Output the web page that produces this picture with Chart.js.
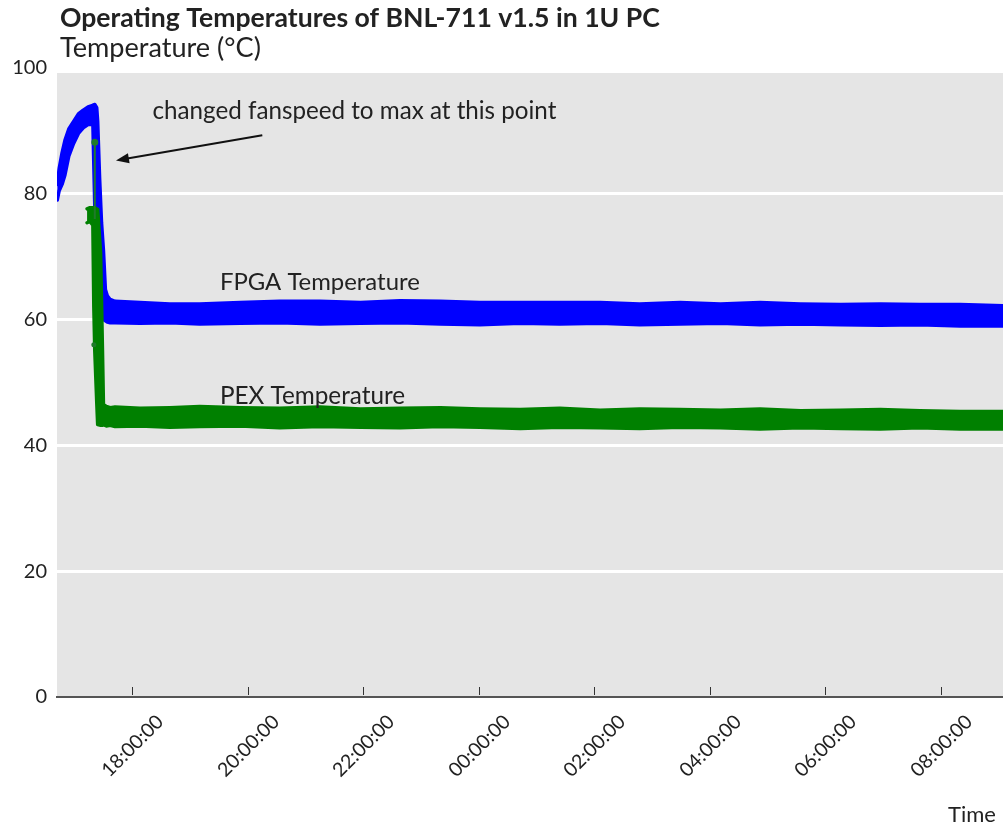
<!DOCTYPE html>
<html>
<head>
<meta charset="utf-8">
<script src="https://cdn.jsdelivr.net/npm/chart.js"></script>
<style>
  html, body { margin: 0; padding: 0; background: #fff; overflow: hidden; }
  #wrap { width: 1003px; height: 823px; position: relative; }
</style>
</head>
<body>
<div id="wrap"><canvas id="chart"></canvas></div>
<script>
// Values (times are clock times, night rolls past midnight)
// Each sensor is drawn as a band between its high and low readings.
const fpgaTimes = ["16:42", "16:44", "16:47", "16:50", "16:54", "16:59", "17:04", "17:09", "17:14", "17:18",
  "17:19", "17:21", "17:23", "17:24", "17:26", "17:28", "17:30", "17:32", "17:34", "17:37", "17:42",
  "18:08", "18:39", "19:10", "19:52", "20:33", "21:15", "21:57", "22:38", "23:20", "00:01", "00:43",
  "01:24", "02:06", "02:47", "03:29", "04:11", "04:52", "05:34", "06:16", "06:57", "07:38", "08:20", "09:05"];
const fpgaHigh = [81.5, 84.0, 86.5, 88.5, 90.3, 91.5, 92.7, 93.3, 93.8, 94.0,
  94.1, 94.2, 93.7, 91.5, 82.5, 75.4, 71.0, 64.8, 63.8, 63.2, 62.9,
  62.7, 62.5, 62.5, 62.7, 62.9, 62.9, 62.7, 63.0, 62.9, 62.7, 62.7,
  62.7, 62.7, 62.5, 62.7, 62.5, 62.7, 62.5, 62.4, 62.5, 62.4, 62.4, 62.2];
const fpgaLow = [79.0, 80.5, 81.5, 83.0, 86.0, 88.0, 89.6, 90.5, 91.0, 91.0,
  91.2, 78.0, 73.5, 71.0, 66.5, 62.7, 60.0, 59.8, 59.6, 59.5, 59.5,
  59.4, 59.5, 59.3, 59.4, 59.5, 59.3, 59.4, 59.5, 59.3, 59.2, 59.4,
  59.3, 59.4, 59.2, 59.3, 59.4, 59.2, 59.3, 59.2, 59.1, 59.2, 59.0, 59.0];

const pexTimes = ["17:13", "17:16", "17:19", "17:20", "17:21", "17:23", "17:24", "17:27", "17:29", "17:30",
  "17:33", "17:37", "17:42",
  "18:08", "18:39", "19:10", "19:52", "20:33", "21:15", "21:57", "22:38", "23:20", "00:01", "00:43",
  "01:24", "02:06", "02:47", "03:29", "04:11", "04:52", "05:34", "06:16", "06:57", "07:38", "08:20", "09:05"];
const pexHigh = [77.6, 77.8, 77.8, 77.8, 77.8, 77.6, 77.5, 70.7, 55.0, 46.5,
  46.2, 46.0, 46.1,
  45.9, 46.0, 46.2, 46.0, 45.9, 46.1, 45.8, 45.9, 46.0, 45.8, 45.7,
  45.9, 45.6, 45.8, 45.7, 45.6, 45.8, 45.5, 45.6, 45.7, 45.5, 45.4, 45.4];
const pexLow = [75.4, 75.6, 75.0, 62.0, 55.0, 47.0, 43.3, 43.2, 43.2, 43.3,
  43.1, 43.2, 43.0,
  43.1, 42.9, 43.0, 43.1, 42.8, 43.0, 42.9, 42.8, 43.0, 42.9, 42.7,
  42.9, 42.8, 42.7, 42.9, 42.8, 42.6, 42.8, 42.7, 42.6, 42.8, 42.6, 42.6];

// stray PEX readings around the fan change
const pexSpikeTimes = ["17:21", "17:21"];
const pexSpikeValues = [88.2, 76.0];
const pexStrayTimes = ["17:20"];
const pexStrayValues = [56.0];

const xTickLabels = ["18:00:00", "20:00:00", "22:00:00", "00:00:00", "02:00:00", "04:00:00", "06:00:00", "08:00:00"];
const yTickValues = [0, 20, 40, 60, 80, 100];

// "HH:MM[:SS]" -> hours from midnight of the first day
function toHours(t) {
  const p = t.split(":").map(Number);
  let h = p[0] + p[1] / 60 + (p[2] || 0) / 3600;
  if (h < 12) h += 24;
  return h;
}
function points(times, values) {
  return times.map((t, i) => ({ x: toHours(t), y: values[i] }));
}

const FONT = "Lato, 'Noto Sans', sans-serif";
const BLUE = "#0000ff";
const GREEN = "#008000";

const annotations = [
  { text: "changed fanspeed to max at this point", time: "18:21", value: 93.1, width: 404 },
  { text: "FPGA Temperature", time: "19:31", value: 65.9, width: 200 },
  { text: "PEX Temperature", time: "19:31", value: 47.9, width: 185 },
];
const arrow = { from: ["20:15", 89.3], to: ["17:43", 85.3] };

function fitFont(ctx, text, weight, width) {
  ctx.font = weight + " 100px " + FONT;
  const size = 100 * width / ctx.measureText(text).width;
  return weight + " " + size.toFixed(1) + "px " + FONT;
}

const decorPlugin = {
  id: "decor",
  beforeDraw(chart) {
    const { ctx, chartArea: a, scales: { y } } = chart;
    const top = y.getPixelForValue(99.2);
    ctx.save();
    ctx.fillStyle = "#e5e5e5";
    ctx.fillRect(a.left, top, a.right - a.left, a.bottom - top);
    ctx.restore();
  },
  afterDraw(chart) {
    const { ctx, chartArea: a, scales: { x, y } } = chart;
    ctx.save();
    ctx.fillStyle = "#222";
    ctx.textBaseline = "middle";

    // titles
    ctx.textAlign = "left";
    ctx.font = fitFont(ctx, "Operating Temperatures of BNL-711 v1.5 in 1U PC", "bold", 600);
    ctx.fillText("Operating Temperatures of BNL-711 v1.5 in 1U PC", 60, 18);
    ctx.font = fitFont(ctx, "Temperature (°C)", "normal", 201);
    ctx.fillText("Temperature (°C)", 60, 48);

    // x ticks: short marks inside the panel, labels rotated 45 deg
    ctx.strokeStyle = "#333";
    ctx.lineWidth = 1;
    ctx.font = "19.5px " + FONT;
    ctx.textAlign = "center";
    x.ticks.forEach((t, i) => {
      const px = Math.round(x.getPixelForValue(t.value)) + 0.5;
      ctx.beginPath();
      ctx.moveTo(px, a.bottom - 2);
      ctx.lineTo(px, a.bottom - 10);
      ctx.stroke();
      ctx.save();
      ctx.translate(px, a.bottom + 49);
      ctx.rotate(-Math.PI / 4);
      ctx.fillText(xTickLabels[i], 0, 0);
      ctx.restore();
    });
    ctx.textAlign = "left";
    ctx.font = "22px " + FONT;
    ctx.fillText("Time", 948, 815);

    // text annotations
    annotations.forEach(n => {
      ctx.font = fitFont(ctx, n.text, "normal", n.width);
      ctx.fillText(n.text, x.getPixelForValue(toHours(n.time)), y.getPixelForValue(n.value));
    });

    // arrow
    const x1 = x.getPixelForValue(toHours(arrow.from[0])), y1 = y.getPixelForValue(arrow.from[1]);
    const x2 = x.getPixelForValue(toHours(arrow.to[0])), y2 = y.getPixelForValue(arrow.to[1]);
    const ang = Math.atan2(y2 - y1, x2 - x1);
    ctx.strokeStyle = "#111";
    ctx.fillStyle = "#111";
    ctx.lineWidth = 2;
    ctx.beginPath();
    ctx.moveTo(x1, y1);
    ctx.lineTo(x2 - 10 * Math.cos(ang), y2 - 10 * Math.sin(ang));
    ctx.stroke();
    ctx.beginPath();
    ctx.moveTo(x2, y2);
    ctx.lineTo(x2 - 13 * Math.cos(ang) + 5 * Math.sin(ang), y2 - 13 * Math.sin(ang) - 5 * Math.cos(ang));
    ctx.lineTo(x2 - 13 * Math.cos(ang) - 5 * Math.sin(ang), y2 - 13 * Math.sin(ang) + 5 * Math.cos(ang));
    ctx.closePath();
    ctx.fill();
    ctx.restore();
  }
};

function band(label, data, color, fill) {
  return {
    label, data, fill,
    borderColor: color, backgroundColor: color,
    borderWidth: 3.5, pointRadius: 0, tension: 0,
    borderJoinStyle: "round", borderCapStyle: "round",
  };
}

const chartCanvas = document.getElementById("chart").getContext("2d");

new Chart(chartCanvas, {
  type: "line",
  data: {
    datasets: [
      {
        label: "PEX spike",
        data: points(pexSpikeTimes, pexSpikeValues),
        borderColor: "#1f7a2a", backgroundColor: "#1f7a2a",
        borderWidth: 2, pointRadius: [2.5, 0], fill: false,
      },
      {
        label: "PEX stray",
        data: points(pexStrayTimes, pexStrayValues),
        showLine: false, pointRadius: 2.5, borderWidth: 0,
        backgroundColor: "#1f7a2a",
      },
      band("PEX high", points(pexTimes, pexHigh), GREEN, "+1"),
      band("PEX low", points(pexTimes, pexLow), GREEN, false),
      band("FPGA high", points(fpgaTimes, fpgaHigh), BLUE, "+1"),
      band("FPGA low", points(fpgaTimes, fpgaLow), BLUE, false),
    ],
  },
  options: {
    responsive: true,
    maintainAspectRatio: false,
    animation: false,
    layout: { autoPadding: false, padding: { top: 68, right: 0, bottom: 0, left: 0 } },
    plugins: {
      legend: { display: false },
      tooltip: { enabled: false },
    },
    scales: {
      x: {
        type: "linear",
        min: toHours("16:41:45"),
        max: toHours("09:04:25"),
        grid: { display: false },
        border: { display: true, color: "#555", width: 2 },
        ticks: { display: false },
        afterBuildTicks: (s) => { s.ticks = xTickLabels.map(l => ({ value: toHours(l) })); },
        afterFit: (s) => { s.height = 126; },
      },
      y: {
        min: 0,
        max: 100,
        afterBuildTicks: (s) => { s.ticks = yTickValues.map(v => ({ value: v })); },
        afterFit: (s) => { s.width = 57; },
        border: { display: false },
        grid: {
          drawTicks: false,
          lineWidth: 3,
          color: (c) => (c.tick && (c.tick.value === 0 || c.tick.value === 100)) ? "rgba(0,0,0,0)" : "#ffffff",
        },
        ticks: {
          padding: 10,
          color: "#222",
          font: { family: FONT, size: 20 },
        },
      },
    },
  },
  plugins: [decorPlugin],
});
</script>
</body>
</html>
